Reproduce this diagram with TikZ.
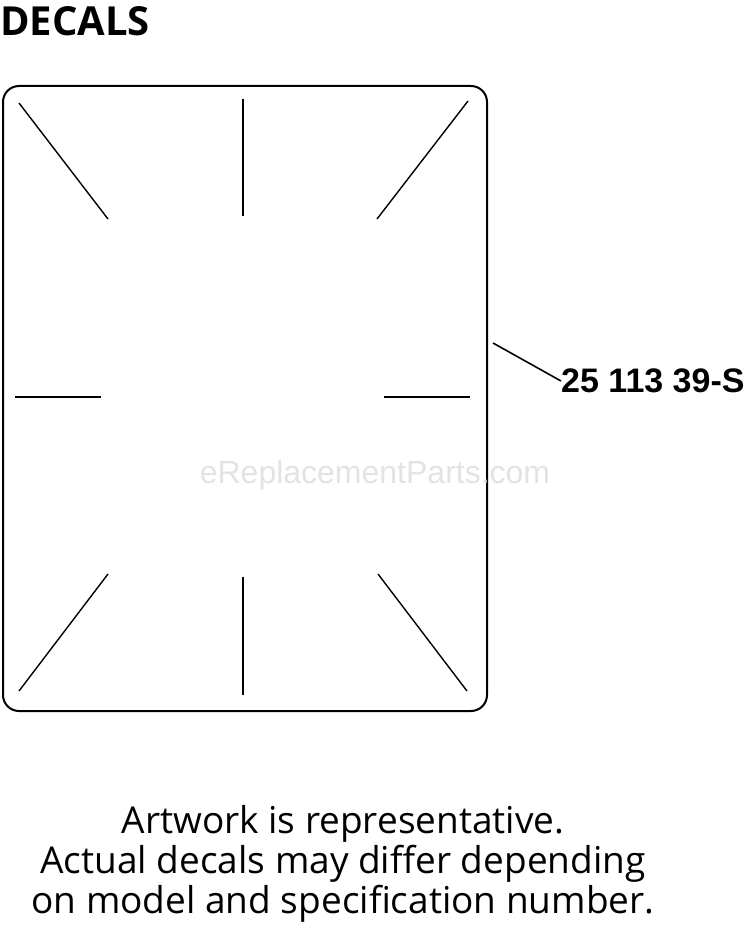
\documentclass[tikz,border=0pt]{standalone}
\usepackage{fontspec}
\setmainfont{Open Sans}
\newfontfamily\partfont{Liberation Sans}

\begin{document}
\begin{tikzpicture}[x=1pt, y=-1pt,
	mark line/.style = {line width=1.4pt, black},
	part label/.style = {anchor=west, inner sep=0pt, font=\partfont\bfseries\fontsize{34}{38}\selectfont}]
	\useasboundingbox (0,0) rectangle (750,944);

	\node [anchor=north west, inner sep=0pt, font=\bfseries\fontsize{40}{46}\selectfont] (title) at (0,6) {DECALS};

	% decal outline
	\draw [line width=2pt, rounded corners=16pt] (3,86) rectangle (487,711);

	% watermark
	\node [text=gray!22, font=\partfont\fontsize{32}{35}\selectfont] (mark) at (375,475) {eReplacementParts.com};

	\draw [mark line] (19,103) -- (108,219);
	\draw [mark line] (243,99) -- (243,216);
	\draw [mark line] (468,101) -- (377,219);

	\draw [mark line] (15,397) -- (101,397);
	\draw [mark line] (384,397) -- (470,397);

	\draw [mark line] (108,574) -- (19,691);
	\draw [mark line] (243,577) -- (243,695);
	\draw [mark line] (378,574) -- (467,691);

	\node [part label] (part) at (561,381) {25 113 39-S};
	\coordinate (edge) at (493,343);
	\draw [line width=1.6pt] (edge) -- (part.west);

	\node [align=center, font=\fontsize{37}{40}\selectfont] (note) at (343,864)
		{Artwork is representative.\\Actual decals may differ depending\\on model and specification number.};
\end{tikzpicture}
\end{document}
